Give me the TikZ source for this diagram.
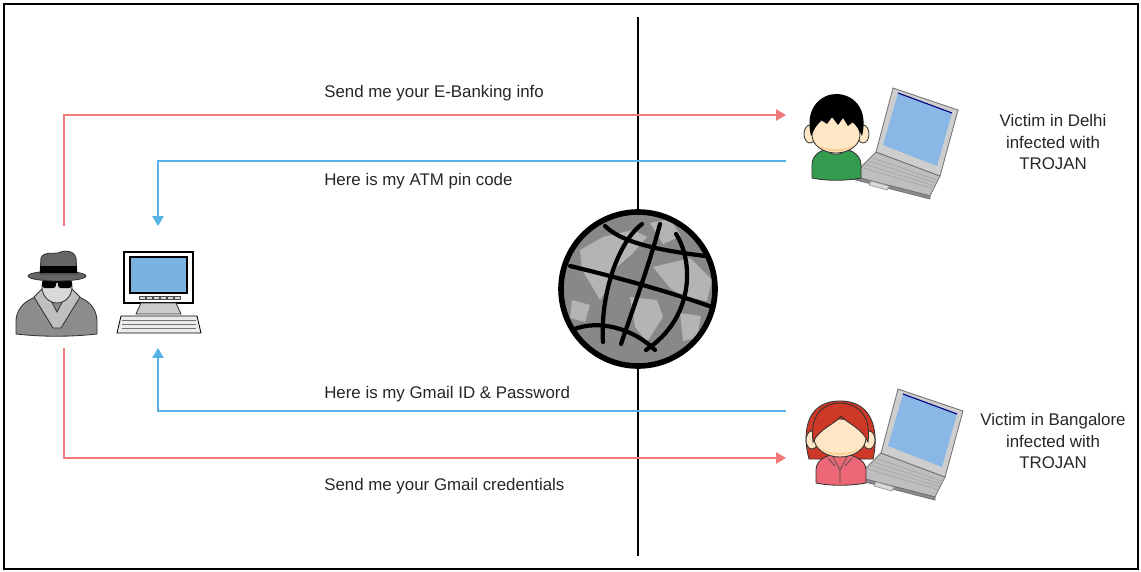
\documentclass[tikz,border=0pt]{standalone}
\usepackage{fontspec}
\setmainfont{Liberation Sans}
\usepackage{xcolor}
\usetikzlibrary{arrows.meta, calc}

\definecolor{reqred}{RGB}{240,122,122}
\definecolor{ansblue}{RGB}{88,178,230}
\definecolor{lcdblue}{RGB}{138,184,230}
\definecolor{crtblue}{RGB}{122,178,224}
\definecolor{shirtgreen}{RGB}{52,156,78}
\definecolor{skin}{RGB}{255,230,196}
\definecolor{skinshade}{RGB}{252,206,150}
\definecolor{hairred}{RGB}{206,56,38}
\definecolor{toppink}{RGB}{236,104,118}
\definecolor{lidgray}{RGB}{206,206,206}
\definecolor{deckgray}{RGB}{190,190,190}
\definecolor{landgray}{RGB}{180,180,180}
\definecolor{seagray}{RGB}{136,136,136}

\begin{document}
\begin{tikzpicture}[
    x=0.025cm, y=-0.025cm,
    msg/.style={anchor=base west, inner sep=0pt, text=black!85, font=\fontsize{12}{15}\selectfont},
    victim/.style={align=center, inner sep=0pt, text=black!85, font=\fontsize{12}{15.3}\selectfont},
    reqline/.style={draw=reqred, line width=1.1pt, -{Triangle[length=7pt, width=8pt]}},
    ansline/.style={draw=ansblue, line width=1.1pt, -{Triangle[length=7pt, width=8pt]}},
    outl/.style={draw=black!80, line width=0.6pt},
    gridline/.style={line width=3pt, line cap=round},
    % notebook computer, origin at the top left corner of the lid
    laptop/.pic={
        \draw[outl, draw=black!55, fill=deckgray] (-17,63) -- (47,87) -- (37,107) -- (-41,87) -- cycle;
        \draw[outl, draw=black!55, fill=black!45] (-41,87) -- (37,107) -- (37,110) -- (-41,90) -- cycle;
        \foreach \t in {0.22,0.36,0.50,0.64}
            \draw[black!35, line width=0.5pt] ($(-17,63)!\t!(-41,87)$) -- ($(47,87)!\t!(37,107)$);
        \draw[black!40, line width=0.5pt, fill=black!15] (-22,92) -- (-4,97) -- (-6,101) -- (-24,96) -- cycle;
        \draw[outl, draw=black!55, fill=lidgray] (0,-1) -- (65,21) -- (47,87) -- (-17,63) -- cycle;
        \fill[lcdblue] (5,4) -- (59,24) -- (44,77) -- (-10,56) -- cycle;
        \draw[blue!50!black, line width=0.8pt] (5,4) -- (59,24);
    },
    % boy, origin at the middle of the face
    boy/.pic={
        \draw[outl, fill=shirtgreen] (-24,43) -- (-24,30) .. controls (-24,18) and (-12,13) .. (0,13)
            .. controls (12,13) and (25,18) .. (25,30) -- (25,43) .. controls (10,46) and (-10,46) .. cycle;
        \draw[outl, fill=white] (-11,14) .. controls (-5,21) and (5,21) .. (11,14) -- cycle;
        \draw[outl, fill=skin] (-26,-1) ellipse [x radius=6, y radius=9];
        \draw[outl, fill=skin] (27,-1) ellipse [x radius=6, y radius=9];
        \draw[outl, fill=skin] (0,0) ellipse [x radius=24, y radius=18];
        \fill[skinshade] (-20,9) .. controls (-10,16) and (10,16) .. (20,9) .. controls (10,19) and (-10,19) .. cycle;
        \fill[black] (-25,1) .. controls (-32,-28) and (-14,-41) .. (0,-41) .. controls (16,-41) and (33,-28) .. (26,1)
            -- (22,-7) -- (17,-13) -- (12,-9) -- (7,-17) -- (2,-10) -- (-4,-18) -- (-9,-11) -- (-15,-15) -- (-21,-7) -- cycle;
    },
    % girl, origin at the middle of the face
    girl/.pic={
        \draw[outl, fill=hairred] (-31,21) .. controls (-37,0) and (-37,-37) .. (0,-37)
            .. controls (37,-37) and (38,0) .. (33,21) -- cycle;
        \draw[outl, fill=toppink] (-24,45) -- (-24,32) .. controls (-24,21) and (-12,16) .. (0,16)
            .. controls (12,16) and (26,21) .. (26,32) -- (26,45) .. controls (10,48) and (-10,48) .. cycle;
        \draw[black!70, line width=0.5pt] (-8,17) -- (0,32) -- (8,17) (0,32) -- (0,45) (-12,20) -- (-5,28) (12,20) -- (5,28);
        \draw[outl, fill=skin] (-28,2) ellipse [x radius=6, y radius=9];
        \draw[outl, fill=skin] (29,2) ellipse [x radius=6, y radius=9];
        \draw[outl, fill=skin] (0,0) ellipse [x radius=26, y radius=19];
        \fill[skinshade] (-22,9) .. controls (-10,17) and (10,17) .. (22,9) .. controls (10,20) and (-10,20) .. cycle;
        \draw[outl, fill=hairred] (-27,4) .. controls (-31,-26) and (-14,-35) .. (0,-35) .. controls (14,-35) and (32,-26) .. (28,4)
            .. controls (22,-10) and (8,-14) .. (1,-22) .. controls (-6,-13) and (-20,-10) .. cycle;
    }
]
\useasboundingbox (0,0) rectangle (1141,571);

% Frame and the network divide
\draw[line width=2pt] (4,4) rectangle (1138,569);
\coordinate (netTop) at (638,17);
\coordinate (netBot) at (638,556);
\draw[line width=1.5pt] (netTop) -- (netBot);

% Attacker: spy figure
\draw[outl, fill=black!45] (16,334) -- (16,322) .. controls (16,305) and (30,298) .. (42,295) -- (72,295)
    .. controls (85,298) and (97,305) .. (97,322) -- (97,334) .. controls (70,337) and (43,337) .. cycle;
\draw[outl, fill=black!25] (34,297) -- (44,287) -- (57,312) -- (70,287) -- (80,297) -- (61,328) -- (53,328) -- cycle;
\draw[outl, fill=black!15] (57,287) ellipse [x radius=15, y radius=16];
\fill[black, rounded corners=2pt] (42,280) rectangle (56,288);
\fill[black, rounded corners=2pt] (58,280) rectangle (72,288);
\draw[black, line width=1pt] (55,282) -- (59,282);
\draw[outl, fill=black!60] (57,276) ellipse [x radius=29, y radius=5];
\draw[outl, fill=black!60] (40,274) -- (41,258) .. controls (44,251) and (53,254) .. (58,253)
    .. controls (64,250) and (74,250) .. (76,258) -- (77,274) -- cycle;
\fill[black] (40,266) rectangle (77,273);
\coordinate (spyTop) at (64,226);
\coordinate (spyBot) at (64,348);

% Attacker: desktop computer
\draw[outl, draw=black, line width=1pt, fill=white] (124,252) rectangle (193,303);
\draw[black, line width=0.8pt, fill=crtblue] (130,257) rectangle (187,293);
\foreach \k in {0,...,5}
    \draw[black!70, line width=0.4pt, fill=black!15] (139+\k*7,296) rectangle +(6,3);
\draw[outl, fill=black!20] (141,303) -- (176,303) -- (181,314) -- (136,314) -- cycle;
\draw[outl, draw=black, fill=black!8] (121,316) -- (197,316) -- (201,333) -- (117,333) -- cycle;
\foreach \y in {320,324,328}
    \draw[black!55, line width=0.5pt] (122,\y) -- (196,\y);
\coordinate (pcTop) at (158,226);
\coordinate (pcBot) at (158,348);

% Internet globe
\node[circle, fill=seagray, minimum size=3.9cm, inner sep=0pt] (net) at (638,289) {};
\begin{scope}
    \clip (net.center) circle [radius=77];
    \fill[landgray] (580,250) -- (603,237) -- (633,230) -- (647,237) -- (633,253) -- (617,267) -- (608,287)
        -- (600,300) -- (590,283) -- (582,270) -- cycle;
    \fill[landgray] (650,223) -- (670,219) -- (681,236) -- (663,244) -- cycle;
    \fill[landgray] (630,297) -- (657,300) -- (663,317) -- (647,342) -- (635,327) -- cycle;
    \fill[landgray] (653,267) -- (690,258) -- (712,280) -- (707,301) -- (683,297) -- (670,288) -- cycle;
    \fill[landgray] (680,313) -- (701,316) -- (697,338) -- (683,341) -- cycle;
    \fill[landgray] (572,300) -- (590,305) -- (585,322) -- (570,318) -- cycle;
    \draw[gridline] (642,224) .. controls (618,242) and (600,295) .. (603,342);
    \draw[gridline] (660,224) .. controls (650,262) and (636,300) .. (621,344);
    \draw[gridline] (676,234) .. controls (694,262) and (694,318) .. (646,350);
    \draw[gridline] (605,226) .. controls (625,246) and (675,252) .. (705,256);
    \draw[gridline] (570,266) .. controls (620,278) and (670,292) .. (712,307);
    \draw[gridline] (572,330) .. controls (600,318) and (635,330) .. (655,350);
\end{scope}
\draw[line width=4pt] (net.center) circle [radius=77];

% Victims
\pic at (893,89) {laptop};
\pic at (836,135) {boy};
\pic at (898,390) {laptop};
\pic at (840,438) {girl};
\coordinate (delhiIn) at (786,115);
\coordinate (delhiOut) at (786,161);
\coordinate (bangIn) at (786,458);
\coordinate (bangOut) at (786,411);
\node[victim] (delhi) at (1053,142) {Victim in Delhi\\infected with\\TROJAN};
\node[victim] (bangalore) at (1053,441) {Victim in Bangalore\\infected with\\TROJAN};

% Requests and replies
\draw[reqline] (spyTop) |- (delhiIn);
\draw[ansline] (delhiOut) -| (pcTop);
\draw[ansline] (bangOut) -| (pcBot);
\draw[reqline] (spyBot) |- (bangIn);
\node[msg] (askBank) at (324,98) {Send me your E-Banking info};
\node[msg] (pinReply) at (324,185) {Here is my ATM pin code};
\node[msg] (gmailReply) at (324,398) {Here is my Gmail ID \& Password};
\node[msg] (askGmail) at (324,490) {Send me your Gmail credentials};

\end{tikzpicture}
\end{document}
